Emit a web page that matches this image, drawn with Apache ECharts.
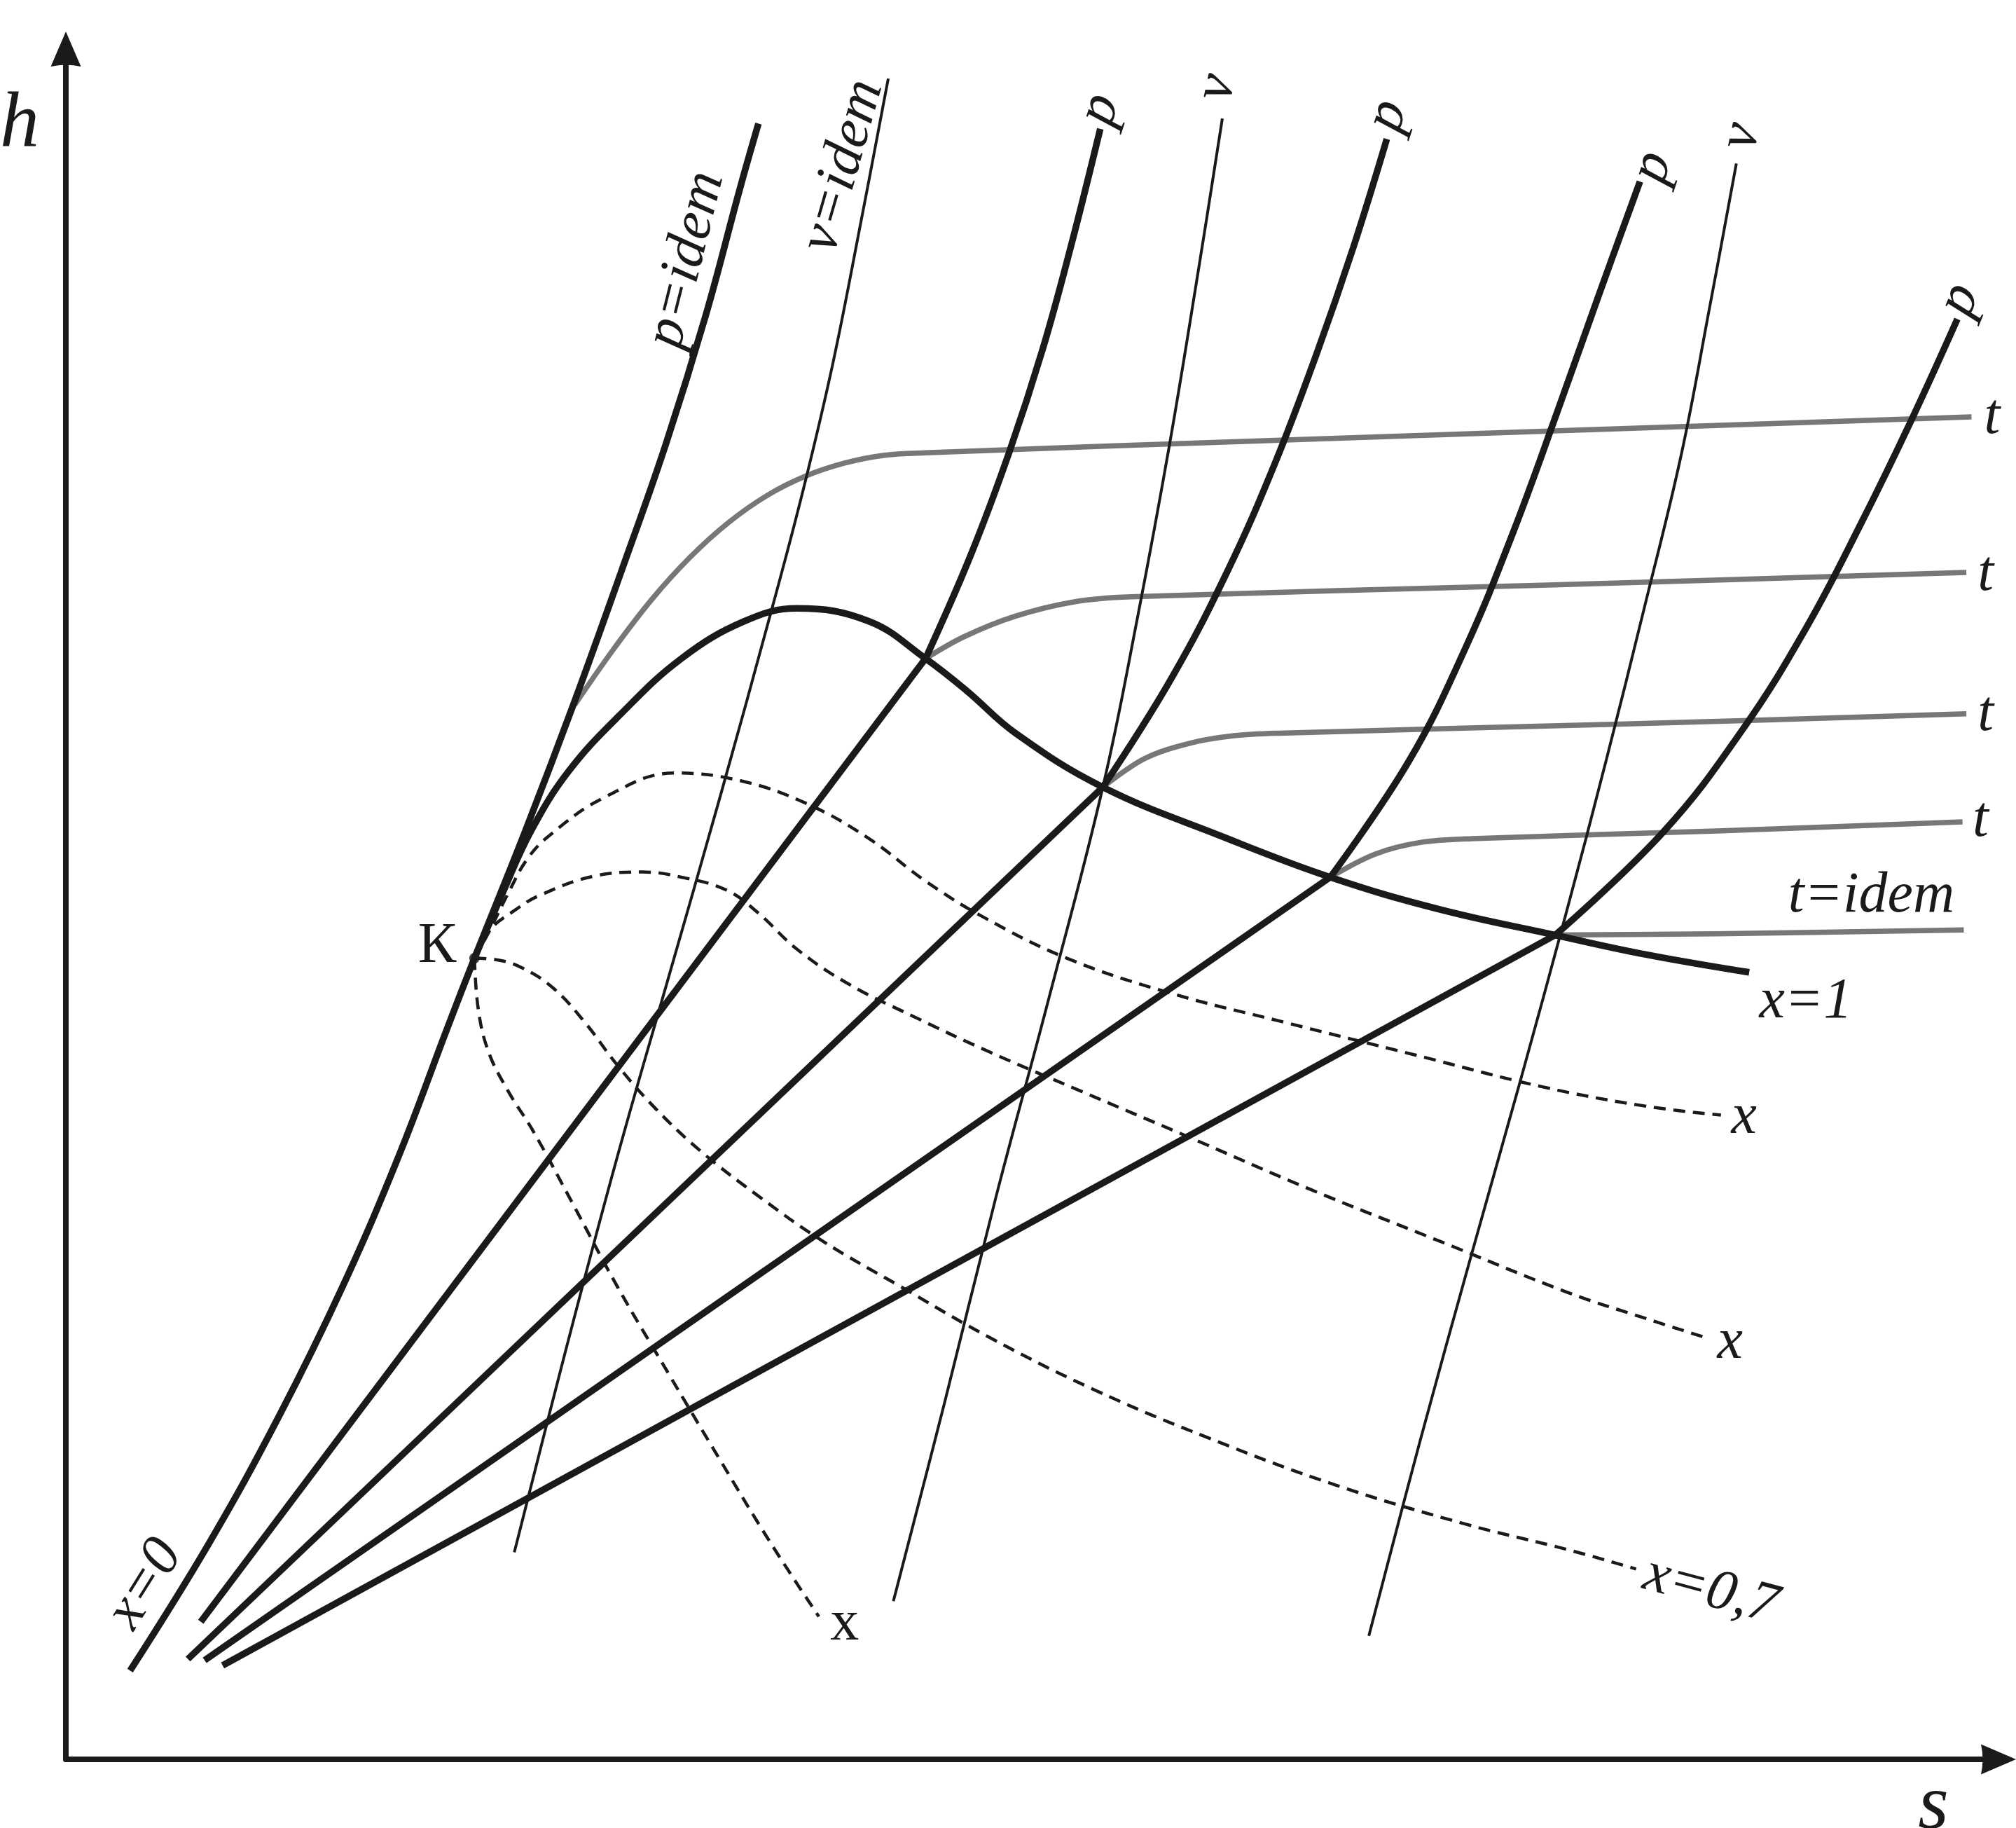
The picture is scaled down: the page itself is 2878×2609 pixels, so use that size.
<!DOCTYPE html>
<html><head><meta charset="utf-8">
<script src="https://cdn.jsdelivr.net/npm/echarts@6/dist/echarts.min.js"></script>
<style>html,body{margin:0;padding:0;background:#fff}#c{width:2878px;height:2609px}</style>
</head><body><div id="c"></div>
<script>
// ---- Data (schematic h–s diagram, arbitrary units: s to the right, h upward) ----
const boundaryX0 = [[50,69],[112,169],[167,269],[216,369],[259,469],[297,569],[318,623],[358,723],[396,823],[432,923],[467,1023],[498,1123],[525,1223],[539,1272]];
const boundaryX1 = [[318,623],[340,674],[362,722],[391,768],[431,812],[479,856],[528,885],[569,895],[625,885],[669,856],[701,831],[739,798],[807,756],[899,718],[984,686],[1069,661],[1159,641],[1229,626],[1310,612]];

const isobarWet = [
  [[105,107],[669,856]],
  [[95,78],[807,756]],
  [[108,77],[984,686]],
  [[122,73],[1159,641]]
];
const isobarSuper = [
  [[669,856],[704,936],[734,1016],[760,1096],[782,1176],[805,1268]],
  [[807,756],[860,840],[904,924],[941,1008],[973,1092],[1002,1176],[1028,1260]],
  [[984,686],[1045,776],[1090,866],[1127,956],[1160,1046],[1192,1136],[1225,1227]],
  [[1159,641],[1243,721],[1305,801],[1355,881],[1397,961],[1436,1041],[1472,1120]]
];
const isochores = [
  [[349,161],[389,318],[429,468],[469,608],[509,748],[549,893],[574,988],[597,1086],[619,1197],[640,1307]],
  [[644,123],[684,278],[724,438],[764,588],[807,756],[834,888],[859,1023],[882,1162],[900,1276]],
  [[1014,96],[1054,248],[1094,393],[1132,528],[1167,656],[1199,778],[1229,898],[1257,1014],[1279,1128],[1300,1241]]
];
const isotherms = [
  [[396,820],[426,863],[456,902],[486,935],[516,962],[546,983],[576,998],[606,1008],[636,1014],[669,1016],[949,1026],[1483,1044]],
  [[669,856],[699,873],[739,889],[784,900],[829,904],[1149,913],[1479,923]],
  [[807,756],[839,778],[874,790],[909,796],[944,798],[1209,805],[1479,813]],
  [[984,686],[1019,704],[1054,713],[1094,716],[1285,722],[1476,729]],
  [[1159,641],[1284,642],[1477,645]]
];
const dryness = [
  [[318,623],[329,643],[344,673],[359,700],[377,719],[419,748],[474,767],[525,761],[577,743],[625,716],[669,683],[714,655],[779,623],[859,596],[949,573],[1049,548],[1149,523],[1229,508],[1288,501]],
  [[318,623],[330,645],[349,660],[369,672],[412,687],[449,690],[479,686],[514,676],[539,658],[569,630],[609,603],[659,578],[719,550],[789,520],[869,486],[969,443],[1069,403],[1169,363],[1229,343],[1276,328]],
  [[318,623],[334,622],[354,616],[379,600],[404,573],[429,540],[459,506],[494,473],[539,438],[589,403],[649,368],[719,328],[799,288],[889,250],[989,213],[1089,183],[1169,163],[1222,148]],
  [[318,623],[321,583],[329,550],[344,520],[364,488],[394,433],[429,368],[469,300],[509,233],[548,169],[586,111]]
];
const criticalPoint = [[318,623]];

// label texts and anchors (data units) and rotation (degrees)
const labelTexts = ['p=idem','v=idem','p','p','p','p','v','v','t','t','t','t','t=idem','x=1','x','x','x=0,7','x','x=0','К'];
const labelAnchors = [[483,1166],[605,1239],[805,1283],[1029,1278],[1235,1238],[1474,1135],[896,1300],[1304,1262],[1499,1043],[1494,921],[1494,812],[1490,730],[1405,671],[1354,589],[1306,499],[1295,324],[1280,131],[606,105],[62,136],[289,632]];
const labelRot = [76,74,72,72,72,68,78,78,0,0,0,0,0,0,0,0,-15,0,58,0];
const labelItalic = [1,1,1,1,1,1,1,1,1,1,1,1,1,1,1,1,1,0,1,0];

// ---- styles ----
const BLACK = '#1a1a1a', GREY = '#777777';
const thick = {color: BLACK, width: 9.5};
const thin = {color: BLACK, width: 4};
const greyS = {color: GREY, width: 7.5};
const dashS = {color: BLACK, width: 4.5, type: [17, 11]};

function ls(data, style, smooth, z) {
  return {type: 'line', data: data, symbol: 'none', showSymbol: false, smooth: smooth,
    lineStyle: Object.assign({cap: 'butt', join: 'round'}, style), silent: true, z: z, clip: false, animation: false};
}

const series = [];
isotherms.forEach(d => series.push(ls(d, greyS, 0.35, 2)));
dryness.forEach(d => series.push(ls(d, dashS, 0.4, 3)));
isochores.forEach(d => series.push(ls(d, thin, 0.4, 4)));
isobarWet.forEach(d => series.push(ls(d, thick, false, 5)));
isobarSuper.forEach(d => series.push(ls(d, thick, 0.4, 5)));
series.push(ls(boundaryX1, thick, 0.4, 5));
series.push(ls(boundaryX0, thick, 0.4, 5));
series.push({type: 'scatter', data: criticalPoint, symbol: 'circle', symbolSize: 15, itemStyle: {color: BLACK}, silent: true, z: 6, animation: false});

const arrowPath = 'path://M21.5,0 L43,50 Q21.5,45 0,50 Z';
const axisCommon = {
  type: 'value', min: 0,
  axisLine: {show: true, lineStyle: {color: BLACK, width: 8}, symbol: ['none', arrowPath], symbolSize: [43, 50]},
  axisTick: {show: false}, axisLabel: {show: false}, splitLine: {show: false}
};

const chart = echarts.init(document.getElementById('c'), null, {renderer: 'canvas', width: 2878, height: 2609});
chart.setOption({
  animation: false,
  backgroundColor: '#ffffff',
  grid: {left: 94, top: 70, right: 25, bottom: 98, containLabel: false},
  xAxis: Object.assign({}, axisCommon, {max: 1504}),
  yAxis: Object.assign({}, axisCommon, {max: 1330}),
  series: series
});

const FAMILY = 'Liberation Serif';
function txt(t, x, y, rot, italic, size) {
  return {type: 'text', x: x, y: y, rotation: rot * Math.PI / 180, z: 10,
    style: {text: t, fontFamily: FAMILY, fontStyle: italic ? 'italic' : 'normal', fontSize: size, fill: BLACK, align: 'center', verticalAlign: 'middle'}};
}
const graphics = [txt('h', 28, 180, 0, true, 112), txt('s', 2760, 2580, 0, true, 112)];
labelTexts.forEach((t, i) => {
  const p = chart.convertToPixel({xAxisIndex: 0, yAxisIndex: 0}, labelAnchors[i]);
  graphics.push(txt(t, p[0], p[1], labelRot[i], labelItalic[i], 82));
});
chart.setOption({graphic: graphics});
</script>
</body></html>
